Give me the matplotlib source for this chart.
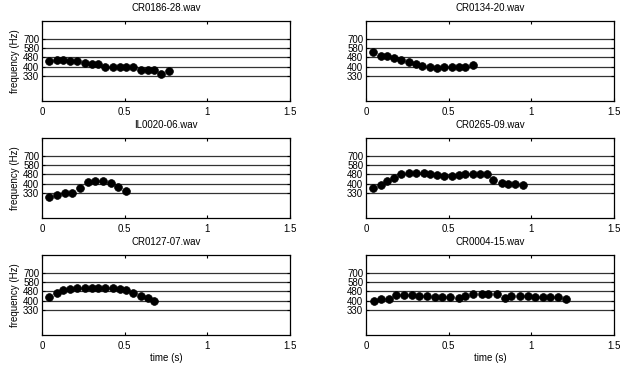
import matplotlib
matplotlib.use("Agg")
import matplotlib.pyplot as plt
from matplotlib.ticker import FixedLocator, FixedFormatter, NullLocator

plt.rcParams['font.family'] = ['Liberation Sans', 'DejaVu Sans']

# --- DATA ---
titles = ["CR0186-28.wav", "CR0134-20.wav",
          "IL0020-06.wav", "CR0265-09.wav",
          "CR0127-07.wav", "CR0004-15.wav"]

t_cr0186 = [0.04, 0.09, 0.13, 0.17, 0.21, 0.26, 0.30, 0.34, 0.38, 0.43,
            0.47, 0.51, 0.55, 0.60, 0.64, 0.68, 0.72, 0.77]
f_cr0186 = [446, 452, 452, 449, 443, 432, 420, 420, 396, 394,
            396, 396, 396, 372, 372, 372, 344, 365]

t_cr0134 = [0.04, 0.09, 0.13, 0.17, 0.21, 0.26, 0.30, 0.34, 0.39, 0.43,
            0.47, 0.52, 0.56, 0.60, 0.65]
f_cr0134 = [538, 496, 490, 475, 456, 434, 425, 406, 396, 385,
            396, 398, 398, 398, 412]

t_il0020 = [0.04, 0.09, 0.14, 0.18, 0.23, 0.28, 0.32, 0.37, 0.42, 0.46, 0.51]
f_il0020 = [307, 315, 328, 334, 369, 414, 424, 420, 408, 374, 341]

t_cr0265 = [0.04, 0.09, 0.13, 0.17, 0.21, 0.26, 0.30, 0.35, 0.39, 0.43,
            0.47, 0.52, 0.56, 0.60, 0.65, 0.69, 0.73, 0.77, 0.82, 0.86,
            0.90, 0.95]
f_cr0265 = [367, 392, 419, 450, 483, 496, 496, 496, 483, 477,
            467, 467, 474, 480, 480, 486, 480, 433, 403, 395,
            395, 387]

t_cr0127 = [0.04, 0.09, 0.13, 0.17, 0.21, 0.26, 0.30, 0.34, 0.38, 0.43,
            0.47, 0.51, 0.55, 0.60, 0.64, 0.68]
f_cr0127 = [433, 464, 496, 509, 515, 512, 512, 512, 512, 512,
            502, 496, 461, 437, 417, 400]

t_cr0004 = [0.05, 0.09, 0.14, 0.18, 0.23, 0.28, 0.32, 0.37, 0.42, 0.46,
            0.51, 0.56, 0.60, 0.65, 0.70, 0.74, 0.79, 0.84, 0.88, 0.93,
            0.98, 1.02, 1.07, 1.11, 1.16, 1.21]
f_cr0004 = [400, 411, 416, 446, 446, 446, 441, 435, 433, 430,
            427, 421, 435, 454, 456, 456, 454, 424, 438, 435,
            435, 433, 430, 430, 427, 416]

series = [(t_cr0186, f_cr0186), (t_cr0134, f_cr0134),
          (t_il0020, f_il0020), (t_cr0265, f_cr0265),
          (t_cr0127, f_cr0127), (t_cr0004, f_cr0004)]

freq_lines = [330, 400, 480, 580, 700]
x_ticks = [0, 0.5, 1, 1.5]
x_labels = ["0", "0.5", "1", "1.5"]

# --- LAYOUT (pixels of a 624x367 figure) ---
W, H = 624, 367
fig = plt.figure(figsize=(W / 100, H / 100), dpi=100)
col_left = [42, 366]
row_top = [21, 138, 255]
ax_w, ax_h = 248, 80

for i, (title, (t, f)) in enumerate(zip(titles, series)):
    r, c = divmod(i, 2)
    ax = fig.add_axes([col_left[c] / W, 1 - (row_top[r] + ax_h) / H, ax_w / W, ax_h / H])
    ax.set_yscale('log')
    ax.set_xlim(0, 1.5)
    ax.set_ylim(200, 1000)
    for fl in freq_lines:
        ax.axhline(fl, color='0.2', lw=0.9, zorder=1)
    ax.plot(t, f, 'o', color='black', ms=5.6, mew=0.5, zorder=3)

    ax.yaxis.set_major_locator(FixedLocator(freq_lines))
    ax.yaxis.set_major_formatter(FixedFormatter([str(v) for v in freq_lines]))
    ax.yaxis.set_minor_locator(NullLocator())
    ax.set_xticks(x_ticks)
    ax.set_xticklabels(x_labels)
    ax.tick_params(axis='both', direction='in', top=True, right=True,
                   labelsize=7, pad=2, length=2.5, width=0.8)
    ax.tick_params(axis='x', pad=4)
    for sp in ax.spines.values():
        sp.set_linewidth(0.9)
    ax.set_title(title, fontsize=7, pad=7)
    if c == 0:
        ax.set_ylabel("frequency (Hz)", fontsize=7, labelpad=2)
    if r == 2:
        ax.set_xlabel("time (s)", fontsize=7, labelpad=2)

fig.savefig("out.png", dpi=100)
